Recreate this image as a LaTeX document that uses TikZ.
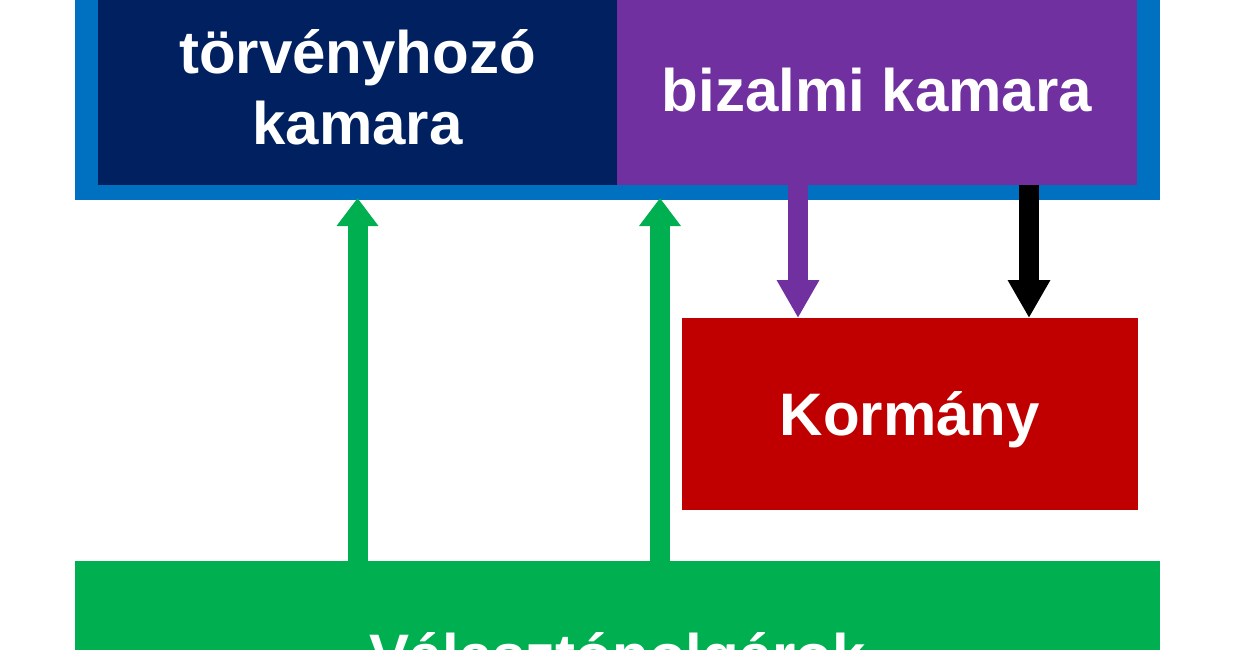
\documentclass[tikz,border=0pt]{standalone}
\usepackage{fontspec}
\setmainfont{Liberation Sans}
\usetikzlibrary{arrows.meta}
\definecolor{cblue}{HTML}{0070C0}
\definecolor{cnavy}{HTML}{002060}
\definecolor{cpurple}{HTML}{7030A0}
\definecolor{cred}{HTML}{C00000}
\definecolor{cgreen}{HTML}{00B050}
\tikzset{
  boxnode/.style={rectangle, inner sep=0pt, outer sep=0pt, text=white,
    font=\fontsize{60pt}{71pt}\selectfont\bfseries, align=center,
    text height=43pt, text depth=0pt},
  greenarrow/.style={draw=cgreen, line width=20pt, -{Triangle[length=28pt,width=40pt]}},
  downarrow/.style={line width=20pt, -{Triangle[length=38pt,width=40pt]}},
}
\begin{document}
\begin{tikzpicture}[x=1pt,y=-1pt]
\useasboundingbox (0,0) rectangle (1250,650);
\clip (0,0) rectangle (1250,650);
\fill[white] (0,0) rectangle (1250,650);
% parliament frame
\node[boxnode, fill=cblue, minimum width=1085pt, minimum height=225.5pt] (parl) at (617.5,86.75) {};
\node[boxnode, fill=cnavy, minimum width=519pt, minimum height=189pt, text height=109pt, text depth=0pt] (torv) at (357.5,90.5) {törvényhozó\\kamara};
\node[boxnode, fill=cpurple, minimum width=520pt, minimum height=189pt] (biz) at (877,90.5) {bizalmi kamara};
% government
\node[boxnode, fill=cred, minimum width=456pt, minimum height=192pt] (korm) at (910,414) {Kormány};
% voters
\node[boxnode, fill=cgreen, minimum width=1085pt, minimum height=187pt] (valaszt) at (617.5,654.5) {Választópolgárok};
% arrows
\draw[greenarrow] (torv |- valaszt.north) -- ([yshift=1.5pt]torv |- parl.south);
\draw[greenarrow] ([xshift=42.5pt]valaszt.north) -- ([xshift=42.5pt,yshift=1.5pt]parl.south);
\draw[downarrow, draw=cpurple] ([xshift=-79pt]biz.south) -- ([xshift=-112pt]korm.north);
\draw[downarrow, draw=black] ([xshift=152pt]biz.south) -- ([xshift=119pt]korm.north);
\end{tikzpicture}
\end{document}
